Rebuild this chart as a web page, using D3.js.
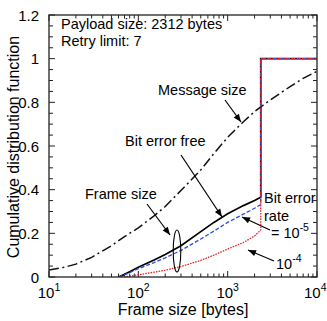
<!DOCTYPE html>
<html><head><meta charset="utf-8">
<script src="https://cdn.jsdelivr.net/npm/d3@7"></script>
<style>
html,body{margin:0;padding:0;background:#fff;}
svg text{font-family:"Liberation Sans",Arial,Helvetica,sans-serif;fill:#000;}
</style></head>
<body><svg id="c" width="327" height="321"></svg>
<script>
// ---- data ----
const messageSizes = [10, 15, 20, 30, 50, 70, 100, 150, 200, 300, 500, 700, 1000, 1500, 2000, 3000, 5000, 7000, 10000];
const messageCdf   = [0.032, 0.045, 0.059, 0.090, 0.143, 0.185, 0.225, 0.280, 0.323, 0.396, 0.490, 0.565, 0.640, 0.711, 0.758, 0.811, 0.872, 0.910, 0.942];

const frameSizes    = [60, 70, 80, 100, 150, 200, 300, 500, 700, 1000, 1500, 2000, 2346, 2346, 10000];
const frameErrFree  = [0.0, 0.012, 0.024, 0.045, 0.078, 0.103, 0.143, 0.208, 0.250, 0.290, 0.327, 0.350, 0.365, 1, 1];
const frameBer1e5   = [0.0, 0.010, 0.020, 0.038, 0.066, 0.088, 0.122, 0.174, 0.210, 0.250, 0.288, 0.315, 0.332, 1, 1];
const frameBer1e4   = [0.0, 0.001, 0.004, 0.010, 0.022, 0.031, 0.048, 0.076, 0.100, 0.128, 0.158, 0.188, 0.215, 1, 1];

const xMajorTicks = [10, 100, 1000, 10000];
const xTickExponents = ["1", "2", "3", "4"];
const yMajorTicks = [0, 0.2, 0.4, 0.6, 0.8, 1.0, 1.2];
const yTickLabels = ["0", "0.2", "0.4", "0.6", "0.8", "1", "1.2"];

// ---- layout ----
const W = 327, H = 321;
const m = {left: 49, right: 10, top: 15, bottom: 44};
const iw = W - m.left - m.right, ih = H - m.top - m.bottom;
const svg = d3.select("#c");
const g = svg.append("g").attr("transform", `translate(${m.left},${m.top})`);

const x = d3.scaleLog().domain([10, 10000]).range([0, iw]);
const y = d3.scaleLinear().domain([0, 1.2]).range([ih, 0]);

svg.append("defs").append("clipPath").attr("id", "clip")
  .append("rect").attr("width", iw).attr("height", ih);

// minor ticks
const xMinor = [];
for (let d = 10; d < 10000; d *= 10) for (let k = 2; k <= 9; k++) xMinor.push(d * k);
const yMinor = d3.range(0, 1.2001, 0.05).filter(v => Math.abs(Math.round(v / 0.2) * 0.2 - v) > 1e-6);

const tickStyle = sel => sel.attr("stroke", "#222").attr("stroke-width", 1);
const tg = g.append("g");
[[xMajorTicks, 6], [xMinor, 3.5]].forEach(([vals, len]) => {
  vals.forEach(v => {
    tg.append("line").attr("x1", x(v)).attr("x2", x(v)).attr("y1", ih).attr("y2", ih - len).call(tickStyle);
    tg.append("line").attr("x1", x(v)).attr("x2", x(v)).attr("y1", 0).attr("y2", len).call(tickStyle);
  });
});
[[yMajorTicks, 6], [yMinor, 4]].forEach(([vals, len]) => {
  vals.forEach(v => {
    tg.append("line").attr("y1", y(v)).attr("y2", y(v)).attr("x1", 0).attr("x2", len).call(tickStyle);
    tg.append("line").attr("y1", y(v)).attr("y2", y(v)).attr("x1", iw).attr("x2", iw - len).call(tickStyle);
  });
});

// tick labels
xMajorTicks.forEach((v, i) => {
  const last = i === xMajorTicks.length - 1;
  const t = g.append("text")
    .attr("x", last ? W - m.left - 0.5 : x(v))
    .attr("y", ih + 21)
    .attr("text-anchor", last ? "end" : "middle")
    .style("font-size", "15px");
  t.append("tspan").text("10");
  t.append("tspan").attr("dy", -7).style("font-size", "10.5px").text(xTickExponents[i]);
});
yMajorTicks.forEach((v, i) => {
  g.append("text").attr("x", -10).attr("y", y(v) + 5.5).attr("text-anchor", "end")
    .style("font-size", "15px").text(yTickLabels[i]);
});

// axis titles
svg.append("text").attr("x", m.left + iw / 2).attr("y", H - 6).attr("text-anchor", "middle")
  .style("font-size", "16px").text("Frame size [bytes]");
svg.append("text").attr("transform", `translate(19,${m.top + ih / 2 + 1}) rotate(-90)`)
  .attr("text-anchor", "middle").style("font-size", "16px").text("Cumulative distribution function");

// lines
const line = (xs, ys) => d3.line().x((d, i) => x(xs[i])).y((d, i) => y(ys[i]))(ys);
const lg = g.append("g").attr("clip-path", "url(#clip)");
lg.append("path").attr("d", line(messageSizes, messageCdf)).attr("fill", "none")
  .attr("stroke", "#111").attr("stroke-width", 1.5).attr("stroke-dasharray", "10,3.5,2,3.5");
lg.append("path").attr("d", line(frameSizes, frameErrFree)).attr("fill", "none")
  .attr("stroke", "#000").attr("stroke-width", 1.7);
lg.append("path").attr("d", line(frameSizes, frameBer1e5)).attr("fill", "none")
  .attr("stroke", "#2b4fe6").attr("stroke-width", 1.3).attr("stroke-dasharray", "4,2");
lg.append("path").attr("d", line(frameSizes, frameBer1e4)).attr("fill", "none")
  .attr("stroke", "#e8232a").attr("stroke-width", 1.3).attr("stroke-dasharray", "1.6,1.1");

// frame
g.append("rect").attr("width", iw).attr("height", ih).attr("fill", "none")
  .attr("stroke", "#222").attr("stroke-width", 1.3);

// annotations
const fs = "14.5px";
const px2x = p => x.invert(p - m.left), py2y = p => y.invert(p - m.top);
function label(xv, yv, txt) {
  return g.append("text").attr("x", x(xv)).attr("y", y(yv)).style("font-size", fs).text(txt);
}
function arrow(x1, y1, x2, y2) {
  const X1 = x(x1), Y1 = y(y1), X2 = x(x2), Y2 = y(y2);
  g.append("line").attr("x1", X1).attr("y1", Y1).attr("x2", X2).attr("y2", Y2)
    .attr("stroke", "#000").attr("stroke-width", 1.2);
  const a = Math.atan2(Y2 - Y1, X2 - X1), L = 8, w = 3.2;
  const bx = X2 - L * Math.cos(a), by = Y2 - L * Math.sin(a);
  const pts = [[X2, Y2], [bx + w * Math.sin(a), by - w * Math.cos(a)], [bx - w * Math.sin(a), by + w * Math.cos(a)]];
  g.append("path").attr("d", "M" + pts.join("L") + "Z").attr("fill", "#000");
}

label(px2x(61), py2y(29), "Payload size: 2312 bytes");
label(px2x(61), py2y(46), "Retry limit: 7");

label(px2x(158), py2y(95), "Message size");
arrow(px2x(225), py2y(100), px2x(241), py2y(122));

label(px2x(125), py2y(146), "Bit error free");
arrow(px2x(181), py2y(155), px2x(222), py2y(217));

label(px2x(85), py2y(199), "Frame size");
arrow(px2x(147), py2y(204), px2x(170), py2y(235));
g.append("ellipse").attr("cx", x(px2x(177))).attr("cy", y(py2y(251))).attr("rx", 3.8).attr("ry", 21)
  .attr("fill", "none").attr("stroke", "#000").attr("stroke-width", 1.1);

label(px2x(264), py2y(203), "Bit error");
label(px2x(264), py2y(221), "rate");
const t5 = label(px2x(271), py2y(238), "= 10");
t5.append("tspan").attr("dy", -7).style("font-size", "10.5px").text("-5");
arrow(px2x(270), py2y(230), px2x(242), py2y(217));

const t4 = label(px2x(276), py2y(269), "10");
t4.append("tspan").attr("dy", -7).style("font-size", "10.5px").text("-4");
arrow(px2x(274), py2y(261), px2x(248), py2y(250));
</script></body></html>
